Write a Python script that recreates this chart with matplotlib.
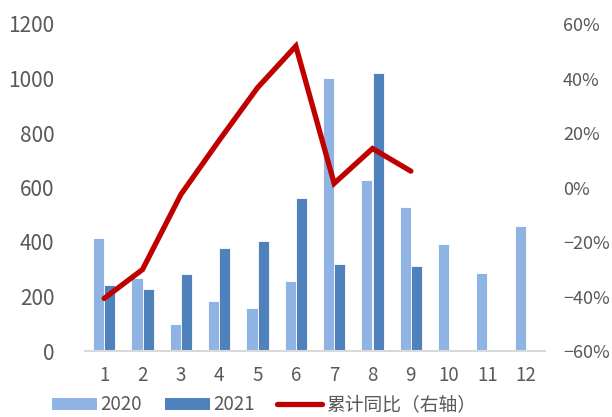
import matplotlib
matplotlib.use('Agg')
from matplotlib import pyplot as plt
from matplotlib.lines import Line2D
from matplotlib.patches import Patch
from matplotlib.ticker import FuncFormatter
import numpy as np

months = [1, 2, 3, 4, 5, 6, 7, 8, 9, 10, 11, 12]
sales_2020 = [413, 267, 98, 183, 158, 258, 1003, 627, 528, 394, 285, 459]
sales_2021 = [242, 227, 284, 378, 405, 560, 318, 1020, 313]
yoy_cum = [-40.7, -30.1, -2.6, 17.3, 36.6, 51.9, 1.5, 14.3, 6.0]

c_2020 = '#8FB4E3'
c_2021 = '#4F81BD'
c_line = '#C00000'
c_text = '#595959'

plt.rcParams['font.family'] = ['Noto Sans CJK SC', 'DejaVu Sans']

fig = plt.figure(figsize=(6.12, 4.17), dpi=100)
ax = fig.add_axes([85/612, 1-351/417, 460/612, 327/417])
ax2 = ax.twinx()

w = 0.29
x = np.array(months)
ax.bar(x - w/2, sales_2020, width=w, color=c_2020, edgecolor='white', linewidth=0.6, zorder=2)
ax.bar(x[:len(sales_2021)] + w/2, sales_2021, width=w, color=c_2021, edgecolor='white', linewidth=0.6, zorder=2)
ax2.plot(x[:len(yoy_cum)], yoy_cum, color=c_line, lw=3.8, solid_capstyle='round', solid_joinstyle='miter', zorder=3)

ax.set_xlim(0.5, 12.5)
ax.set_ylim(0, 1200)
ax.set_yticks(range(0, 1201, 200))
ax2.set_ylim(-60, 60)
ax2.set_yticks(range(-60, 61, 20))
ax2.yaxis.set_major_formatter(FuncFormatter(lambda v, p: '{}%'.format(int(v)).replace('-', '\u2212')))
ax.set_xticks(months)
ax.set_xticklabels([str(m) for m in months])

for a in (ax, ax2):
    for s in a.spines.values():
        s.set_visible(False)
    a.tick_params(length=0, colors=c_text)
ax.spines['bottom'].set_visible(True)
ax.spines['bottom'].set_color('#D9D9D9')
ax.spines['bottom'].set_linewidth(1.5)
ax.tick_params(axis='x', pad=10, labelsize=13.5)
ax.tick_params(axis='y', pad=22, labelsize=15)
ax2.tick_params(axis='y', pad=13, labelsize=13)

handles = [Patch(facecolor=c_2020), Patch(facecolor=c_2021),
           Line2D([0], [0], color=c_line, lw=3.8, solid_capstyle='round')]
labels = ['2020', '2021', '累计同比（右轴）']
fig.legend(handles, labels, loc='center', bbox_to_anchor=(264/612, 1-405/417), ncol=3, frameon=False,
           fontsize=13.5, labelcolor=c_text, handlelength=2.4, handleheight=0.6, handletextpad=0.2,
           columnspacing=1.2)

fig.savefig('out.png', dpi=100)
